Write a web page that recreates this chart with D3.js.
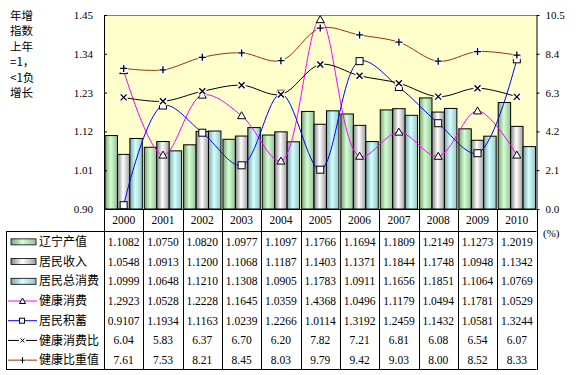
<!DOCTYPE html>
<html>
  <head>
    <title>辽宁健康消费</title>
    <script src="https://cdn.jsdelivr.net/npm/d3@7"></script>
    <style>
      body {
        margin: 0;
        background: #fff;
      }
      text {
        fill: #000;
      }
      .num {
        font-family: "Liberation Serif", "Times New Roman", serif;
        font-size: 11px;
      }
      .cell {
        font-size: 11.5px;
      }
      .cjk {
        font-family: "Noto Sans CJK SC", sans-serif;
        font-size: 12px;
      }
    </style>
  </head>
  <body>
    <script>
      const years = ['2000', '2001', '2002', '2003', '2004', '2005', '2006', '2007', '2008', '2009', '2010'];
      const gdp = [1.1082, 1.0750, 1.0820, 1.0977, 1.1097, 1.1766, 1.1694, 1.1809, 1.2149, 1.1273, 1.2019];
      const income = [1.0548, 1.0913, 1.1200, 1.1068, 1.1187, 1.1403, 1.1371, 1.1844, 1.1748, 1.0948, 1.1342];
      const consumption = [1.0999, 1.0648, 1.1210, 1.1308, 1.0905, 1.1783, 1.0911, 1.1656, 1.1851, 1.1064, 1.0769];
      const healthSpend = [1.2923, 1.0528, 1.2228, 1.1645, 1.0359, 1.4368, 1.0496, 1.1179, 1.0494, 1.1781, 1.0529];
      const savings = [0.9107, 1.1934, 1.1163, 1.0239, 1.2266, 1.0114, 1.3192, 1.2459, 1.1432, 1.0581, 1.3244];
      const healthRatio = [6.04, 5.83, 6.37, 6.70, 6.20, 7.82, 7.21, 6.81, 6.08, 6.54, 6.07];
      const healthShare = [7.61, 7.53, 8.21, 8.45, 8.03, 9.79, 9.42, 9.03, 8.00, 8.52, 8.33];
      const leftTicks = [0.90, 1.01, 1.12, 1.23, 1.34, 1.45];
      const rightTicks = [0, 2.1, 4.2, 6.3, 8.4, 10.5];
      const titleLines = ['年增', '指数', '上年', '=1，', '<1负', '增长'];

      const w = 577, h = 375;
      const plotLeft = 104, plotRight = 536.5, plotTop = 15, plotBottom = 209;
      const tableTop = 231, tableBottom = 369, tableLeft = 6;
      const rowH = (tableBottom - tableTop) / 7;

      const svg = d3.select('body')
                    .append('svg')
                    .attr('width', w)
                    .attr('height', h);

      const x = d3.scaleBand()
                  .domain(years)
                  .range([plotLeft, plotRight])
                  .padding(0);
      const xSub = d3.scaleBand()
                     .domain([0, 1, 2])
                     .range([0, x.bandwidth()])
                     .paddingInner(0)
                     .paddingOuter(0.08);
      const yL = d3.scaleLinear().domain([0.90, 1.45]).range([plotBottom, plotTop]);
      const yR = d3.scaleLinear().domain([0, 10.5]).range([plotBottom, plotTop]);

      // gradients for the bars
      const defs = svg.append('defs');
      const grads = [
        {id: 'g-green', edge: '#7fa27f', mid: '#d2ffd2', end: '#98bf98'},
        {id: 'g-gray', edge: '#858585', mid: '#ffffff', end: '#9c9c9c'},
        {id: 'g-cyan', edge: '#7fa6a6', mid: '#d2ffff', end: '#98c4c4'}
      ];
      grads.forEach(g => {
        const lg = defs.append('linearGradient')
                       .attr('id', g.id)
                       .attr('x1', 0).attr('x2', 1)
                       .attr('y1', 0).attr('y2', 0);
        lg.append('stop').attr('offset', '0%').attr('stop-color', g.edge);
        lg.append('stop').attr('offset', '45%').attr('stop-color', g.mid);
        lg.append('stop').attr('offset', '100%').attr('stop-color', g.end);
      });

      // plot area
      svg.append('rect')
         .attr('x', plotLeft).attr('y', plotTop)
         .attr('width', plotRight - plotLeft).attr('height', plotBottom - plotTop)
         .attr('fill', '#ffffcc');
      svg.append('line')
         .attr('x1', plotLeft).attr('x2', plotRight)
         .attr('y1', plotTop + 0.5).attr('y2', plotTop + 0.5)
         .attr('stroke', '#808080');

      // bars
      const barSeries = [gdp, income, consumption];
      barSeries.forEach((vals, k) => {
        svg.append('g')
           .selectAll('rect')
           .data(vals)
           .enter()
           .append('rect')
           .attr('x', (d, i) => x(years[i]) + xSub(k))
           .attr('y', d => yL(d))
           .attr('width', xSub.bandwidth())
           .attr('height', d => plotBottom - yL(d))
           .attr('fill', `url(#${grads[k].id})`)
           .attr('stroke', '#000')
           .attr('stroke-width', 1);
      });

      const cx = i => x(years[i]) + x.bandwidth() / 2;

      // marker drawing
      const drawMarker = (g, type, px, py) => {
        if (type === 'tri') {
          g.append('path')
           .attr('d', `M${px},${py - 4}L${px + 4},${py + 3}L${px - 4},${py + 3}Z`)
           .attr('fill', '#fff').attr('stroke', '#000').attr('stroke-width', 1);
        } else if (type === 'sq') {
          g.append('rect')
           .attr('x', px - 3.5).attr('y', py - 3.5)
           .attr('width', 7).attr('height', 7)
           .attr('fill', '#fff').attr('stroke', '#000').attr('stroke-width', 1);
        } else {
          g.append('rect')
           .attr('x', px - 4).attr('y', py - 4)
           .attr('width', 8).attr('height', 8)
           .attr('fill', '#fff');
          const p = type === 'x'
            ? `M${px - 3},${py - 3}L${px + 3},${py + 3}M${px + 3},${py - 3}L${px - 3},${py + 3}`
            : `M${px - 3.5},${py}L${px + 3.5},${py}M${px},${py - 3.5}L${px},${py + 3.5}`;
          g.append('path')
           .attr('d', p)
           .attr('stroke', '#000').attr('stroke-width', 1.3).attr('fill', 'none');
        }
      };

      const lineSeries = [
        {vals: healthSpend, y: yL, color: '#ff00ff', marker: 'tri'},
        {vals: savings, y: yL, color: '#0000ff', marker: 'sq'},
        {vals: healthRatio, y: yR, color: '#000000', marker: 'x'},
        {vals: healthShare, y: yR, color: '#993300', marker: 'plus'}
      ];

      const lines = svg.append('g');
      const markers = svg.append('g');
      lineSeries.forEach(s => {
        const line = d3.line()
                       .x((d, i) => cx(i))
                       .y(d => s.y(d))
                       .curve(d3.curveCatmullRom.alpha(0.5));
        lines.append('path')
             .attr('d', line(s.vals))
             .attr('fill', 'none')
             .attr('stroke', s.color)
             .attr('stroke-width', 1);
      });
      lineSeries.forEach(s => {
        s.vals.forEach((d, i) => drawMarker(markers, s.marker, cx(i), s.y(d)));
      });

      // axes
      const yAxisL = d3.axisLeft(yL)
                       .tickValues(leftTicks)
                       .tickFormat(d3.format('.2f'))
                       .tickSizeInner(-3)
                       .tickSizeOuter(0)
                       .tickPadding(11);
      const yAxisR = d3.axisRight(yR)
                       .tickValues(rightTicks)
                       .tickFormat(d3.format('.1f'))
                       .tickSizeInner(3)
                       .tickSizeOuter(0)
                       .tickPadding(6);

      svg.append('g')
         .attr('transform', `translate(${plotLeft}, 0)`)
         .call(yAxisL)
         .call(g => g.selectAll('text').attr('class', 'num').attr('fill', '#000'))
         .call(g => g.selectAll('line, path').attr('stroke', '#000'));
      svg.append('g')
         .attr('transform', `translate(${plotRight}, 0)`)
         .call(yAxisR)
         .call(g => g.selectAll('text').attr('class', 'num').attr('fill', '#000'))
         .call(g => g.selectAll('line, path').attr('stroke', '#000'));

      // title on left
      svg.append('g')
         .selectAll('text')
         .data(titleLines)
         .enter()
         .append('text')
         .attr('class', 'cjk')
         .attr('x', 10)
         .attr('y', (d, i) => 16 + i * 15.4)
         .attr('dy', '0.35em')
         .style('font-size', '11.5px')
         .text(d => d);

      svg.append('text')
         .attr('class', 'num')
         .attr('x', 543)
         .attr('y', 233)
         .attr('dy', '0.35em')
         .text('(%)');

      // data table
      const table = svg.append('g');
      const hLine = (x1, x2, y) => table.append('line')
        .attr('x1', x1).attr('x2', x2).attr('y1', y).attr('y2', y)
        .attr('stroke', '#000').attr('stroke-width', 1);
      hLine(plotLeft, plotRight, plotBottom + 0.5);
      hLine(tableLeft, plotRight, tableTop + 0.5);
      hLine(tableLeft, plotRight, tableBottom + 0.5);
      table.append('line')
           .attr('x1', tableLeft + 0.5).attr('x2', tableLeft + 0.5)
           .attr('y1', tableTop).attr('y2', tableBottom + 1)
           .attr('stroke', '#000');
      table.selectAll('.vl')
           .data(years.map(yr => x(yr)).concat([plotRight]))
           .enter()
           .append('line')
           .attr('x1', d => Math.round(d) + 0.5).attr('x2', d => Math.round(d) + 0.5)
           .attr('y1', plotBottom).attr('y2', tableBottom + 1)
           .attr('stroke', '#000');

      table.selectAll('.yr')
           .data(years)
           .enter()
           .append('text')
           .attr('class', 'num cell')
           .attr('x', d => x(d) + x.bandwidth() / 2)
           .attr('y', 220)
           .attr('dy', '0.35em')
           .attr('text-anchor', 'middle')
           .text(d => d);

      const rows = [
        {name: '辽宁产值', vals: gdp, fmt: '.4f', key: 'bar', grad: 'g-green'},
        {name: '居民收入', vals: income, fmt: '.4f', key: 'bar', grad: 'g-gray'},
        {name: '居民总消费', vals: consumption, fmt: '.4f', key: 'bar', grad: 'g-cyan'},
        {name: '健康消费', vals: healthSpend, fmt: '.4f', key: 'tri', color: '#ff00ff'},
        {name: '居民积蓄', vals: savings, fmt: '.4f', key: 'sq', color: '#0000ff'},
        {name: '健康消费比', vals: healthRatio, fmt: '.2f', key: 'x', color: '#000000'},
        {name: '健康比重值', vals: healthShare, fmt: '.2f', key: 'plus', color: '#993300'}
      ];

      rows.forEach((r, ri) => {
        const cy = tableTop + rowH * (ri + 0.5) + 1;
        const fmt = d3.format(r.fmt);
        if (r.key === 'bar') {
          table.append('rect')
               .attr('x', 11).attr('y', cy - 3)
               .attr('width', 25).attr('height', 6)
               .attr('fill', `url(#${r.grad})`)
               .attr('stroke', '#000').attr('stroke-width', 0.8);
        } else {
          table.append('line')
               .attr('x1', 8).attr('x2', 37)
               .attr('y1', cy).attr('y2', cy)
               .attr('stroke', r.color).attr('stroke-width', 1);
          const km = table.append('g');
          if (r.key === 'tri') {
            km.append('path')
              .attr('d', `M22.5,${cy - 3}L25.5,${cy + 2.5}L19.5,${cy + 2.5}Z`)
              .attr('fill', '#fff').attr('stroke', '#000');
          } else if (r.key === 'sq') {
            km.append('rect')
              .attr('x', 19.5).attr('y', cy - 2.5)
              .attr('width', 5).attr('height', 5)
              .attr('fill', '#fff').attr('stroke', '#000');
          } else {
            km.append('rect')
              .attr('x', 19).attr('y', cy - 3)
              .attr('width', 7).attr('height', 6)
              .attr('fill', '#fff');
            const p = r.key === 'x'
              ? `M20.5,${cy - 2}L24.5,${cy + 2}M24.5,${cy - 2}L20.5,${cy + 2}`
              : `M19.5,${cy}L25.5,${cy}M22.5,${cy - 3}L22.5,${cy + 3}`;
            km.append('path').attr('d', p).attr('stroke', '#000').attr('fill', 'none');
          }
        }
        table.append('text')
             .attr('class', 'cjk')
             .attr('x', 39)
             .attr('y', cy)
             .attr('dy', '0.35em')
             .text(r.name);
        table.append('g')
             .selectAll('text')
             .data(r.vals)
             .enter()
             .append('text')
             .attr('class', 'num cell')
             .attr('x', (d, i) => cx(i))
             .attr('y', cy)
             .attr('dy', '0.35em')
             .attr('text-anchor', 'middle')
             .text(d => fmt(d));
      });
    </script>
  </body>
</html>
